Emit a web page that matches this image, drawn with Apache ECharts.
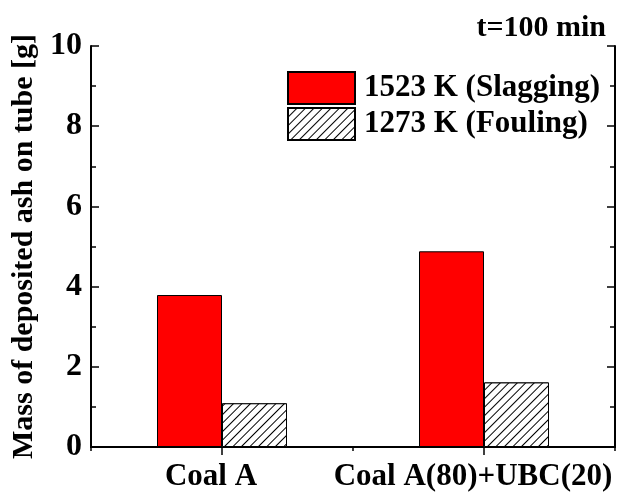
<!DOCTYPE html>
<html>
<head>
<meta charset="utf-8">
<script src="https://cdn.jsdelivr.net/npm/echarts@6/dist/echarts.min.js"></script>
<style>
  html, body { margin: 0; padding: 0; background: #fff; }
  #chart { width: 621px; height: 504px; }
</style>
</head>
<body>
<div id="chart"></div>
<script>
// data
var categories = ['Coal A', 'Coal A(80)+UBC(20)']
var slagging = [3.79, 4.88]   // 1523 K
var fouling = [1.09, 1.61]    // 1273 K
var seriesNames = ['1523 K (Slagging)', '1273 K (Fouling)']

var serif = '"Liberation Serif", "Times New Roman", serif'
var black = '#000'

var chart = echarts.init(document.getElementById('chart'))

var yAxisBase = {
  type: 'value',
  min: 0,
  max: 10,
  interval: 2,
  axisLine: { show: true, lineStyle: { color: black, width: 2 } },
  axisTick: { inside: true, length: 8, lineStyle: { color: black, width: 1.5 } },
  minorTick: { show: true, splitNumber: 2, length: 5, lineStyle: { color: black, width: 1.5 } },
  splitLine: { show: false }
}

chart.setOption({
  animation: false,
  backgroundColor: '#fff',
  title: {
    text: 't=100 min',
    right: 10,
    top: 8,
    textStyle: { fontFamily: serif, fontWeight: 'bold', fontSize: 30, color: black }
  },
  legend: {
    orient: 'vertical',
    left: 282,
    top: 66,
    itemWidth: 67,
    itemHeight: 32,
    itemGap: 2,
    icon: 'rect',
    textStyle: { fontFamily: serif, fontWeight: 'bold', fontSize: 31, color: black, padding: [0, 0, 0, 4] },
    data: seriesNames
  },
  grid: { left: 91, right: 6, top: 46, bottom: 57 },
  xAxis: [{
    type: 'category',
    data: categories,
    axisLine: { lineStyle: { color: black, width: 2 } },
    axisTick: { inside: true, length: 4, lineStyle: { color: black, width: 1.5 } },
    axisLabel: {
      margin: 14,
      interval: 0,
      color: black,
      // labels sit a little left of the category centres in the original
      formatter: function (v) { return '{r|' + v + '}' },
      rich: { r: { fontFamily: serif, fontWeight: 'bold', fontSize: 31, color: black, padding: [0, 22, 0, 0] } }
    }
  }, {
    type: 'value',
    position: 'top',
    min: 0,
    max: 4,
    interval: 2,
    axisLine: { show: true, lineStyle: { color: black, width: 2 } },
    axisTick: { inside: true, length: 4, lineStyle: { color: black, width: 1.5 } },
    minorTick: { show: true, splitNumber: 2, length: 8, lineStyle: { color: black, width: 1.5 } },
    axisLabel: { show: false },
    splitLine: { show: false }
  }],
  yAxis: [Object.assign({}, yAxisBase, {
    position: 'left',
    name: 'Mass of deposited ash on tube [g]',
    nameLocation: 'middle',
    nameGap: 50,
    nameTextStyle: { fontFamily: serif, fontWeight: 'bold', fontSize: 30, color: black },
    axisLabel: { margin: 9, fontFamily: serif, fontWeight: 'bold', fontSize: 32, color: black }
  }), Object.assign({}, yAxisBase, {
    position: 'right',
    axisLabel: { show: false }
  })],
  series: [{
    name: seriesNames[0],
    type: 'bar',
    data: slagging,
    barWidth: 65,
    barGap: '0%',
    itemStyle: { color: '#ff0000', borderColor: black, borderWidth: 1 }
  }, {
    name: seriesNames[1],
    type: 'bar',
    data: fouling,
    barWidth: 65,
    barGap: '0%',
    itemStyle: {
      color: '#fff',
      borderColor: black,
      borderWidth: 1,
      decal: {
        symbol: 'rect',
        symbolSize: 1,
        color: black,
        backgroundColor: '#fff',
        dashArrayX: [1, 0],
        dashArrayY: [1, 5],
        rotation: -Math.PI / 4
      }
    }
  }]
})
</script>
</body>
</html>
